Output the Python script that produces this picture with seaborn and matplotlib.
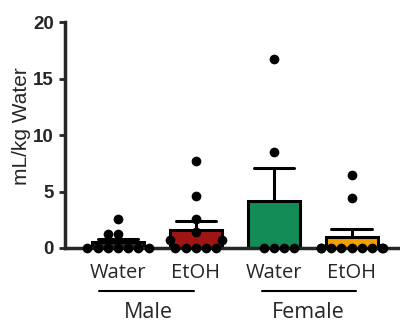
import warnings
import pandas as pd
import matplotlib
matplotlib.use("Agg")
import matplotlib.pyplot as plt
import matplotlib.transforms as mtransforms
import seaborn as sns

warnings.filterwarnings("ignore")

# ─── DATA ─────────────────────────────────────────────────
GROUPS = ["Male Water", "Male EtOH", "Female Water", "Female EtOH"]
TICK_LABELS = ["Water", "EtOH", "Water", "EtOH"]
SEX_LABELS = ["Male", "Female"]
Y_TICKS = [0, 5, 10, 15, 20]
COLORS = ["#2e2e2e", "#a01414", "#138c58", "#f5a000"]

male_water = [2.6, 1.2, 1.2, 0, 0, 0, 0, 0, 0, 0]
male_etoh = [7.7, 4.6, 2.6, 1.4, 0.7, 0.7, 0, 0, 0, 0, 0]
female_water = [16.7, 8.5, 0, 0, 0, 0]
female_etoh = [6.5, 4.4, 0, 0, 0, 0, 0, 0, 0, 0, 0]

values = [male_water, male_etoh, female_water, female_etoh]
df = pd.DataFrame({
    "group": [g for g, v in zip(GROUPS, values) for _ in v],
    "value": [x for v in values for x in v],
})

# ─── PLOT ─────────────────────────────────────────────────
sns.set_style("ticks")
plt.rcParams["font.family"] = ["Liberation Sans", "DejaVu Sans"]

fig, ax = plt.subplots(figsize=(4, 3.25), dpi=100)
fig.subplots_adjust(left=0.1625, right=1.0, bottom=0.237, top=0.932)

# error bars sit behind the bars so only the upper half shows
sns.barplot(data=df, x="group", y="value", order=GROUPS, hue="group",
            hue_order=GROUPS, palette=COLORS, saturation=1, errorbar="se",
            capsize=0.52, width=0.67, edgecolor="black", linewidth=2.2,
            legend=False,
            err_kws={"color": "black", "linewidth": 2.2, "zorder": 0.5},
            ax=ax)
sns.swarmplot(data=df, x="group", y="value", order=GROUPS, color="black",
              size=7, zorder=3, clip_on=False, ax=ax)

ax.set_xlim(-0.68, 3.62)
ax.set_ylim(0, 20)
ax.set_xlabel("")
ax.set_ylabel("")

ax.tick_params(axis="x", length=0, labelbottom=False)
ax.tick_params(axis="y", length=4, width=2, pad=4, labelsize=13.5)
ax.set_yticks(Y_TICKS, labels=[str(t) for t in Y_TICKS], fontweight="bold")

sns.despine(ax=ax)
for side in ["left", "bottom"]:
    ax.spines[side].set_linewidth(2.5)

# y label
ax.text(-0.13, 0.54, "mL/kg Water", transform=ax.transAxes, rotation=90,
        ha="center", va="center", fontsize=15)

# treatment labels, group lines and sex labels under the axis
trans = mtransforms.blended_transform_factory(ax.transData, ax.transAxes)
for i, lab in enumerate(TICK_LABELS):
    ax.text(i, -0.11, lab, transform=trans, ha="center", va="center",
            fontsize=14.5, family="Open Sans")
for (x0, x1), xc, sex in zip([(-0.24, 0.97), (1.85, 3.06)], [0.385, 2.44], SEX_LABELS):
    ax.plot([x0, x1], [-0.19, -0.19], transform=trans, clip_on=False,
            color="black", lw=1.5)
    ax.text(xc, -0.287, sex, transform=trans, ha="center", va="center",
            fontsize=15.5, family="Open Sans")

plt.savefig("out.png", dpi=100)
plt.close()
